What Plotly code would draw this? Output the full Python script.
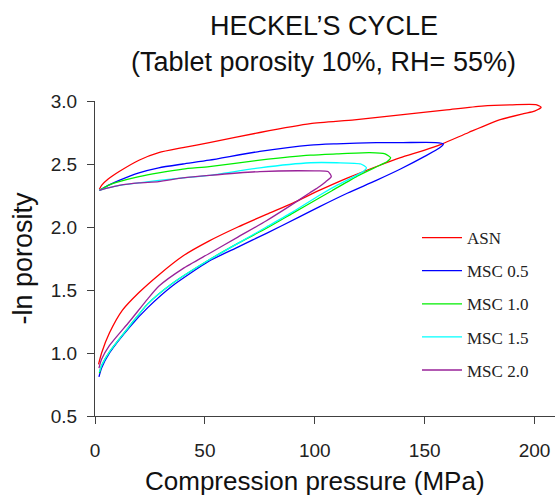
import plotly.graph_objects as go

# Heckel cycles: loading branch (rising) then unloading branch (back to ~0 MPa)
asn_p = [1.6, 3, 6.6, 12.5, 20, 29, 40, 52, 65, 78, 90, 102, 115, 129.6, 139, 150, 158, 170, 184, 195, 200, 203,
         201, 190, 176, 160, 139, 118, 98, 75, 52, 40, 29, 20, 11, 6, 3, 2]
asn_v = [0.91, 1.00, 1.16, 1.34, 1.48, 1.62, 1.77, 1.89, 2.00, 2.10, 2.19, 2.29, 2.39, 2.49, 2.55, 2.61, 2.66, 2.75, 2.85, 2.90, 2.92, 2.95,
         2.97, 2.97, 2.96, 2.93, 2.89, 2.85, 2.82, 2.75, 2.67, 2.63, 2.59, 2.53, 2.44, 2.38, 2.33, 2.30]

msc05_p = [1.8, 3, 6.6, 16, 24, 35, 52, 65, 78, 93, 102, 115, 128, 139, 150, 157, 158.5,
           155, 140, 128, 110, 98, 75, 52, 40, 29, 20, 11, 6, 2]
msc05_v = [0.81, 0.88, 1.00, 1.21, 1.36, 1.53, 1.73, 1.84, 1.95, 2.08, 2.16, 2.27, 2.37, 2.46, 2.56, 2.63, 2.66,
           2.67, 2.67, 2.67, 2.66, 2.65, 2.60, 2.53, 2.50, 2.47, 2.43, 2.37, 2.33, 2.29]

msc10_p = [2, 3, 6.6, 16, 24, 35, 52, 65, 78, 90, 102, 108, 120, 129.6, 133, 134.5,
           132, 125, 110, 98, 75, 52, 40, 29, 20, 11, 6, 2]
msc10_v = [0.84, 0.90, 1.01, 1.22, 1.39, 1.55, 1.74, 1.87, 1.99, 2.11, 2.23, 2.29, 2.41, 2.49, 2.52, 2.55,
           2.58, 2.59, 2.58, 2.57, 2.53, 2.48, 2.46, 2.43, 2.40, 2.36, 2.33, 2.29]

msc15_p = [2, 3, 6.6, 16, 24, 35, 52, 65, 78, 90, 102, 110, 119, 122, 123.5,
           121, 110, 98, 75, 52, 40, 29, 20, 11, 6, 2]
msc15_v = [0.85, 0.90, 1.01, 1.22, 1.39, 1.55, 1.74, 1.87, 2.00, 2.12, 2.25, 2.33, 2.41, 2.44, 2.47,
           2.50, 2.51, 2.51, 2.47, 2.41, 2.39, 2.37, 2.35, 2.33, 2.31, 2.29]

msc20_p = [1.8, 3, 6.6, 15.7, 24, 29, 40, 52, 65, 78, 88, 97.6, 102, 105, 107.5,
           106, 100, 75, 52, 40, 29, 20, 11, 6, 2]
msc20_v = [0.88, 0.95, 1.06, 1.25, 1.43, 1.53, 1.67, 1.79, 1.92, 2.05, 2.16, 2.27, 2.32, 2.36, 2.40,
           2.44, 2.445, 2.44, 2.41, 2.39, 2.36, 2.35, 2.33, 2.31, 2.29]

names = ["ASN", "MSC 0.5", "MSC 1.0", "MSC 1.5", "MSC 2.0"]
series_p = [asn_p, msc05_p, msc10_p, msc15_p, msc20_p]
series_v = [asn_v, msc05_v, msc10_v, msc15_v, msc20_v]
colors = ["#ff0000", "#0000ff", "#00ee00", "#00ffff", "#992299"]

x_ticks = [0, 50, 100, 150, 200]
y_ticks = [0.5, 1.0, 1.5, 2.0, 2.5, 3.0]

title_lines = ["HECKEL’S CYCLE", "(Tablet porosity 10%, RH= 55%)"]
x_title = "Compression pressure (MPa)"
y_title = "-ln porosity"

SANS = "Liberation Sans, Arial, sans-serif"

fig = go.Figure()
for name, p, v, c in zip(names, series_p, series_v, colors):
    fig.add_trace(go.Scatter(
        x=p, y=v, name=name, mode="lines", legendgroup=name,
        line=dict(color=c, width=1.3, shape="spline", smoothing=0.6),
    ))

axis_font = dict(family=SANS, size=19, color="#222222")

# two-line heading above the plot area, plus the x-axis caption
fig.add_annotation(text=title_lines[0], xref="paper", yref="paper", x=0.497, y=1.238,
                   xanchor="center", yanchor="middle", showarrow=False,
                   font=dict(family=SANS, size=27, color="#111111"))
fig.add_annotation(text=title_lines[1], xref="paper", yref="paper", x=0.497, y=1.124,
                   xanchor="center", yanchor="middle", showarrow=False,
                   font=dict(family=SANS, size=27, color="#111111"))
fig.add_annotation(text=x_title, xref="paper", yref="paper", x=0.478, y=-0.205,
                   xanchor="center", yanchor="middle", showarrow=False,
                   font=dict(family=SANS, size=26, color="#111111"))

fig.update_layout(
    width=555, height=499,
    margin=dict(l=95, r=0, t=101, b=83),
    paper_bgcolor="white", plot_bgcolor="white",
    xaxis=dict(
        range=[0, 209.3], tickvals=x_ticks, ticks="outside", ticklen=7, tickwidth=1,
        tickcolor="#404040", showline=True, linecolor="#404040", linewidth=1.2,
        showgrid=False, zeroline=False, tickfont=axis_font, ticklabelstandoff=10,
    ),
    yaxis=dict(
        range=[0.5, 3.0], tickvals=y_ticks, tickformat=".1f", ticks="outside", ticklen=7, tickwidth=1,
        tickcolor="#404040", showline=True, linecolor="#404040", linewidth=1.2,
        showgrid=False, zeroline=False, tickfont=axis_font, ticklabelstandoff=6,
        title=dict(text=y_title, font=dict(family=SANS, size=27, color="#111111"), standoff=10),
    ),
    legend=dict(
        x=0.70, y=0.622, xanchor="left", yanchor="top",
        font=dict(family="Liberation Serif, Times New Roman, serif", size=17, color="#222222"),
        tracegroupgap=8, itemwidth=40, bgcolor="rgba(0,0,0,0)",
    ),
    showlegend=True,
)

fig.write_html("out.html")
